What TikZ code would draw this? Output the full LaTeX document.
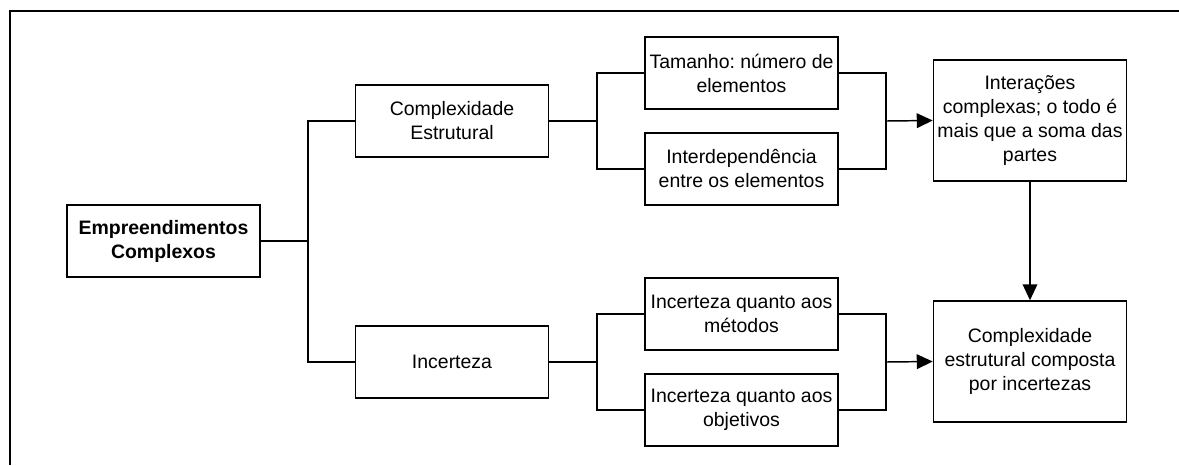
\documentclass[tikz,border=0pt]{standalone}
\usepackage{fontspec}
\setmainfont{Liberation Sans}
\usetikzlibrary{arrows.meta}
\frenchspacing
\begin{document}
\begin{tikzpicture}[x=0.75pt,y=-0.75pt,
  box/.style={draw, line width=1.1pt, minimum width=144.75pt, minimum height=54pt, align=center, inner sep=0pt, font=\fontsize{14.6}{18}\selectfont},
  bigbox/.style={box, minimum height=90.75pt},
  conn/.style={line width=1.1pt},
  arr/.style={conn, -{Triangle[length=12pt,width=11pt]}}]
\useasboundingbox (0,0) rectangle (1179,465);
\draw[conn] (10,465) -- (10,11) -- (1179,11);
\node[box, font=\fontsize{14.6}{18}\selectfont\bfseries] (emp) at (163.5,241) {Empreendimentos\\Complexos};
\node[box] (ce) at (452,121) {Complexidade\\Estrutural};
\node[box] (inc) at (452,362) {Incerteza};
\node[box] (tam) at (741.5,73) {Tamanho: número de\\elementos};
\node[box] (intd) at (741.5,169) {Interdependência\\entre os elementos};
\node[box] (im) at (741.5,314) {Incerteza quanto aos\\métodos};
\node[box] (io) at (741.5,410) {Incerteza quanto aos\\objetivos};
\node[bigbox] (inter) at (1030,120.5) {Interações\\complexas; o todo é\\mais que a soma das\\partes};
\node[bigbox] (cec) at (1030,361.5) {Complexidade\\estrutural composta\\por incertezas};
\coordinate (j1) at (308,241);
\coordinate (j2) at (597,121);
\coordinate (j3) at (886,121);
\coordinate (j4) at (597,362);
\coordinate (j5) at (886,362);
\draw[conn] (emp.east) -- (j1);
\draw[conn] (ce.west) -| (j1) |- (inc.west);
\draw[conn] (ce.east) -- (j2);
\draw[conn] (tam.west) -| (j2) |- (intd.west);
\draw[conn] (tam.east) -| (j3) |- (intd.east);
\draw[arr] (j3) -- (inter.west);
\draw[conn] (inc.east) -- (j4);
\draw[conn] (im.west) -| (j4) |- (io.west);
\draw[conn] (im.east) -| (j5) |- (io.east);
\draw[arr] (j5) -- (cec.west);
\draw[arr] (inter.south) -- (cec.north);
\end{tikzpicture}
\end{document}
